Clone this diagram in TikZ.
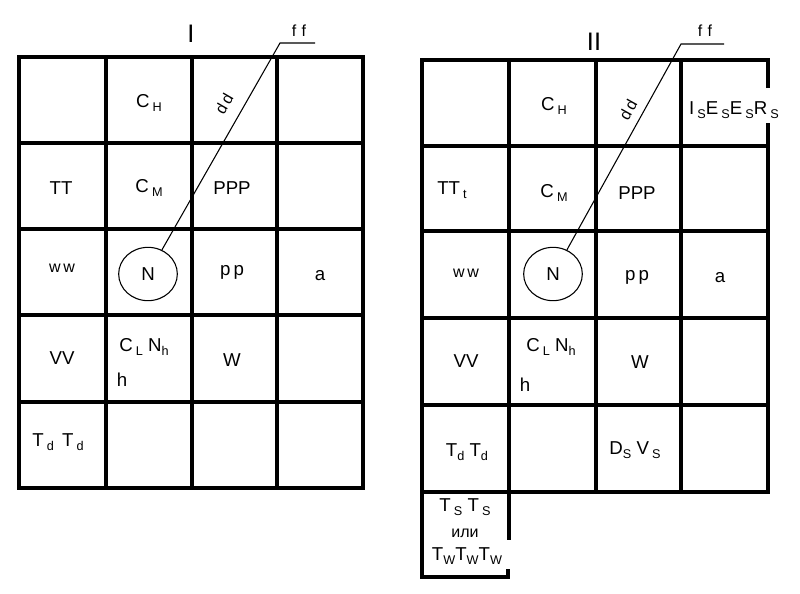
\documentclass[tikz,border=0pt]{standalone}
\usepackage{fontspec}
\setmainfont{Liberation Sans}
\usetikzlibrary{shapes.geometric}
\newcommand\sbs[1]{\raisebox{-0.45ex}{\fontsize{9.5}{10}\selectfont #1}}
\begin{document}
\begin{tikzpicture}[x=0.75pt,y=-0.75pt,
  gridline/.style={line width=2.3pt},
  leader/.style={line width=0.8pt},
  lbl/.style={font=\fontsize{14}{16}\selectfont, inner sep=0pt},
  small/.style={font=\fontsize{12}{14}\selectfont, inner sep=0pt},
  title/.style={font=\fontsize{19}{21}\selectfont, inner sep=0pt},
  ring/.style={ellipse, draw, line width=0.8pt, minimum width=44pt, minimum height=40pt, inner sep=0pt, font=\fontsize{14}{16}\selectfont},
  ]
\useasboundingbox (0,0) rectangle (800,593);

% ---------------- Grid I ----------------
\draw[gridline] (19,57) rectangle (363,488);
\foreach \x in {106,192,277} \draw[gridline] (\x,57) -- (\x,488);
\foreach \y in {143,229,315,402} \draw[gridline] (19,\y) -- (363,\y);

\node[title] (titleI) at (191,34) {I};

\node[lbl] (cH1) at (149,103) {C\,\sbs{H}};
\node[lbl] (tt1) at (61,188) {TT};
\node[lbl] (cM1) at (149,188) {C\,\sbs{M}};
\node[lbl] (ppp1) at (232,188) {PPP};
\node[small] (ww1) at (62,268) {w\,w};
\node[ring] (N1) at (148,274) {N};
\node[lbl] (pp1) at (232,272) {p\,p};
\node[lbl] (a1) at (320,276) {a};
\node[lbl] (vv1) at (62,358) {VV};
\node[lbl] (cl1) at (144,347) {C\,\sbs{L} N\sbs{h}};
\node[lbl] (h1) at (122,380) {h};
\node[lbl] (w1) at (232,360) {W};
\node[lbl] (td1) at (58,442) {T\,\sbs{d}\, T\,\sbs{d}};

\coordinate (bend1) at (280,43);
\coordinate (end1) at (315,43);
\draw[leader] (N1.60) -- (bend1) -- (end1);
\node[small] (ff1) at (299,31) {f\,\,f};
\node[small, rotate=60] (dd1) at (224,104) {d\,d};

% ---------------- Grid II ----------------
\draw[gridline] (768,88) -- (768,60) -- (422,60) -- (422,577) -- (508,577) -- (508,569);
\draw[gridline] (768,123) -- (768,492) -- (422,492);
\draw[gridline] (509,60) -- (509,540);
\foreach \x in {596,681} \draw[gridline] (\x,60) -- (\x,492);
\foreach \y in {146,231,318,405} \draw[gridline] (422,\y) -- (768,\y);

\node[title] (titleII) at (594,42) {II};

\node[lbl] (cH2) at (554,106) {C\,\sbs{H}};
\node[lbl] (isr) at (734,110) {I\,\sbs{S}E\,\sbs{S}E\,\sbs{S}R\,\sbs{S}};
\node[lbl] (tt2) at (452,190) {TT\,\sbs{t}};
\node[lbl] (cM2) at (554,193) {C\,\sbs{M}};
\node[lbl] (ppp2) at (637,193) {PPP};
\node[small] (ww2) at (466,273) {w\,w};
\node[ring] (N2) at (553,274) {N};
\node[lbl] (pp2) at (637,277) {p\,p};
\node[lbl] (a2) at (720,278) {a};
\node[lbl] (vv2) at (466,361) {VV};
\node[lbl] (cl2) at (551,347) {C\,\sbs{L} N\sbs{h}};
\node[lbl] (h2) at (525,385) {h};
\node[lbl] (w2) at (640,362) {W};
\node[lbl] (td2) at (467,452) {T\sbs{d} T\sbs{d}};
\node[lbl] (ds2) at (635,450) {D\sbs{S} V\,\sbs{S}};
\node[lbl] (ts2) at (465,507) {T\,\sbs{S} T\,\sbs{S}};
\node[small] (ili) at (465,533) {или};
\node[lbl] (tw2) at (467,556) {T\sbs{W}T\sbs{W}T\sbs{W}};

\coordinate (bend2) at (681,44);
\coordinate (end2) at (724,44);
\draw[leader] (N2.60) -- (bend2) -- (end2);
\node[small] (ff2) at (705,31) {f\,\,f};
\node[small, rotate=61] (dd2) at (628,110) {d\,d};
\end{tikzpicture}
\end{document}
